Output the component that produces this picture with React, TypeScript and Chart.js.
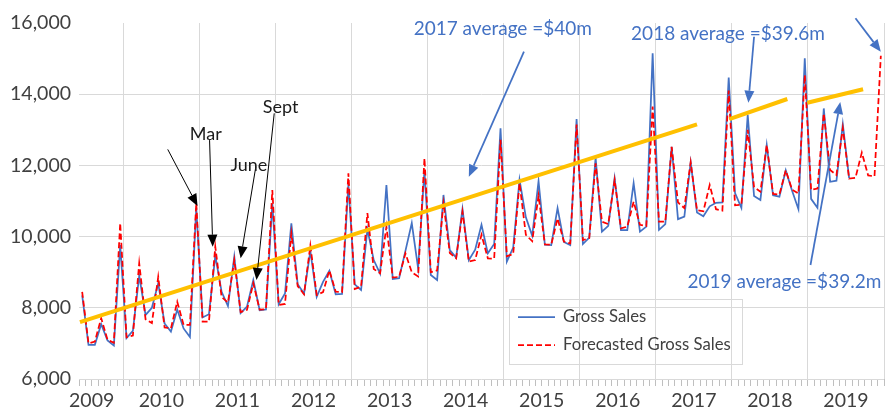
import { useEffect, useRef } from 'react';
import { Chart, registerables } from 'chart.js';

Chart.register(...registerables);

// ---------- data ----------
// monthly categories: Jun 2009 .. Dec 2019 (index 0 .. 126)
const MONTH_NAMES = ['Jan', 'Feb', 'Mar', 'Apr', 'May', 'Jun', 'Jul', 'Aug', 'Sep', 'Oct', 'Nov', 'Dec'];
const months: string[] = [];
for (let y = 2009; y <= 2019; y++) {
  for (let m = 0; m < 12; m++) {
    if (y === 2009 && m < 5) continue;
    months.push(`${MONTH_NAMES[m]} ${y}`);
  }
}

const yearLabels = ['2009', '2010', '2011', '2012', '2013', '2014', '2015', '2016', '2017', '2018', '2019'];

const grossSales = [
  8350, 6960, 6960, 7540, 7080, 6940, 9760,
  7150, 7350, 8900, 7800, 8000, 8690, 7560, 7330, 7950, 7420, 7180, 10800,
  7730, 7820, 9460, 8450, 8050, 9440, 7850, 8030, 8780, 7930, 7950, 10930,
  8100, 8400, 10370, 8660, 8400, 9590, 8310, 8730, 9040, 8380, 8390, 11470,
  8660, 8500, 10210, 9340, 8960, 11450, 8810, 8830, 9600, 10380, 9110, 11860,
  8920, 8780, 11170, 9620, 9410, 10780, 9340, 9630, 10330, 9530, 9790, 13040,
  9300, 9690, 11600, 10540, 10020, 11560, 9770, 9760, 10800, 9850, 9760, 13300,
  9790, 9970, 12220, 10140, 10300, 11640, 10180, 10180, 11500, 10140, 10280, 15150,
  10190, 10350, 12520, 10490, 10560, 12080, 10680, 10570, 10850, 10950, 10960, 14470,
  11220, 10810, 13420, 11140, 11030, 12570, 11160, 11120, 11860, 11290, 10770, 15010,
  11060, 10810, 13600, 11540, 11570, 13160, 11640,
];

const forecastSales = [
  8450, 7000, 7050, 7710, 7100, 7020, 10380,
  7170, 7220, 9250, 7680, 7570, 8870, 7450, 7420, 8170, 7520, 7520, 10940,
  7610, 7610, 9720, 8300, 8150, 9340, 7880, 7940, 8690, 7950, 7960, 11310,
  8080, 8110, 10090, 8610, 8380, 9750, 8360, 8440, 9050, 8450, 8440, 11780,
  8530, 8590, 10660, 9090, 8970, 10280, 8850, 8870, 9530, 9000, 8880, 12200,
  9000, 9050, 10930, 9540, 9390, 10700, 9300, 9340, 10050, 9390, 9380, 12720,
  9450, 9510, 11500, 10050, 9870, 11150, 9780, 9770, 10510, 9860, 9810, 13150,
  9900, 9960, 12060, 10420, 10350, 11590, 10230, 10280, 10980, 10330, 10300, 13650,
  10420, 10420, 12520, 10960, 10800, 12090, 10740, 10710, 11450, 10770, 10730, 14100,
  10880, 10900, 13000, 11390, 11260, 12570, 11200, 11180, 11860, 11320, 11210, 14540,
  11310, 11350, 13460, 11870, 11730, 13050, 11630, 11650, 12360, 11720, 11690, 15080,
];

// trend segments (month index, value)
const trendMain = [{ x: -0.35, y: 7600 }, { x: 97.0, y: 13150 }];
const trend2018 = [{ x: 102.1, y: 13300 }, { x: 111.25, y: 13865 }];
const trend2019 = [{ x: 114.4, y: 13760 }, { x: 123.2, y: 14140 }];

// annotation texts: [month index, value, text, colour, align, size]
const noteTexts: [number, number, string, string, CanvasTextAlign, number][] = [
  [52.3, 15830, '2017 average =$40m', '#4472C4', 'left', 19],
  [86.6, 15690, '2018 average =$39.6m', '#4472C4', 'left', 19],
  [95.5, 8725, '2019 average =$39.2m', '#4472C4', 'left', 19],
  [19.5, 12880, 'Mar', '#1a1a1a', 'center', 18],
  [26.3, 12010, 'June', '#1a1a1a', 'center', 18],
  [31.3, 13640, 'Sept', '#1a1a1a', 'center', 18],
];

// arrows: [from idx, from value, to idx, to value, colour, width]
const noteArrows: [number, number, number, number, string, number][] = [
  [13.5, 12450, 18.2, 10860, '#000000', 1],
  [20.1, 12710, 20.6, 9716, '#000000', 1],
  [27.4, 11966, 25.0, 9390, '#000000', 1],
  [30.3, 13463, 27.5, 8781, '#000000', 1],
  [69.7, 15194, 61.0, 11683, '#4472C4', 1.75],
  [106.0, 15615, 105.1, 13761, '#4472C4', 1.75],
  [114.9, 9202, 119.6, 13781, '#4472C4', 1.75],
  [122.0, 16132, 126.0, 15194, '#4472C4', 1.75],
];

const legendItems: [string, string, number[]][] = [
  ['Gross Sales', '#4472C4', []],
  ['Forecasted Gross Sales', '#FF0000', [6, 3]],
];

// ---------- helpers ----------
function drawArrow(ctx: CanvasRenderingContext2D, x1: number, y1: number, x2: number, y2: number, color: string, width: number) {
  const ang = Math.atan2(y2 - y1, x2 - x1);
  const headLen = 12;
  const headHalf = 5;
  const bx = x2 - headLen * Math.cos(ang);
  const by = y2 - headLen * Math.sin(ang);
  ctx.strokeStyle = color;
  ctx.fillStyle = color;
  ctx.lineWidth = width;
  ctx.setLineDash([]);
  ctx.beginPath();
  ctx.moveTo(x1, y1);
  ctx.lineTo(bx, by);
  ctx.stroke();
  ctx.beginPath();
  ctx.moveTo(x2, y2);
  ctx.lineTo(bx + headHalf * Math.sin(ang), by - headHalf * Math.cos(ang));
  ctx.lineTo(bx - headHalf * Math.sin(ang), by + headHalf * Math.cos(ang));
  ctx.closePath();
  ctx.fill();
}

const notesPlugin = {
  id: 'notes',
  afterDatasetsDraw(chart: any) {
    const { ctx, chartArea } = chart;
    const xs = chart.scales.x;
    const ys = chart.scales.y;
    ctx.save();
    for (const a of noteArrows) {
      drawArrow(ctx, xs.getPixelForValue(a[0]), ys.getPixelForValue(a[1]), xs.getPixelForValue(a[2]), ys.getPixelForValue(a[3]), a[4], a[5]);
    }
    ctx.textBaseline = 'middle';
    for (const t of noteTexts) {
      ctx.font = `${t[5]}px Lato`;
      ctx.fillStyle = t[3];
      ctx.textAlign = t[4];
      ctx.fillText(t[2], xs.getPixelForValue(t[0]), ys.getPixelForValue(t[1]));
    }
    // legend box
    const lx = chartArea.left + 430;
    const ly = chartArea.top + 276;
    ctx.strokeStyle = '#D9D9D9';
    ctx.lineWidth = 1;
    ctx.setLineDash([]);
    ctx.strokeRect(lx + 0.5, ly + 0.5, 233, 65);
    ctx.font = '16.7px Lato';
    ctx.textAlign = 'left';
    legendItems.forEach((it, i) => {
      const yy = ly + 18 + i * 28;
      ctx.strokeStyle = it[1];
      ctx.lineWidth = 1.75;
      ctx.setLineDash(it[2]);
      ctx.beginPath();
      ctx.moveTo(lx + 9, yy);
      ctx.lineTo(lx + 46, yy);
      ctx.stroke();
      ctx.setLineDash([]);
      ctx.fillStyle = '#404040';
      ctx.fillText(it[0], lx + 54, yy);
    });
    ctx.restore();
  },
};

export default function App() {
  const ref = useRef<HTMLCanvasElement | null>(null);
  useEffect(() => {
    document.body.style.margin = '0';
    if (!ref.current) return;
    Chart.defaults.font.family = 'Lato, sans-serif';
    const chart = new Chart(ref.current, {
      type: 'line',
      data: {
        datasets: [
          { label: 'trend', data: trendMain, borderColor: '#FFC000', borderWidth: 4, pointRadius: 0, order: 0 },
          { label: 'trend2018', data: trend2018, borderColor: '#FFC000', borderWidth: 4, pointRadius: 0, order: 0 },
          { label: 'trend2019', data: trend2019, borderColor: '#FFC000', borderWidth: 4, pointRadius: 0, order: 0 },
          {
            label: 'Forecasted Gross Sales',
            data: forecastSales.map((v, i) => ({ x: i, y: v })),
            borderColor: '#FF0000', borderDash: [6, 3], borderWidth: 1.75, pointRadius: 0, order: 1,
          },
          {
            label: 'Gross Sales',
            data: grossSales.map((v, i) => ({ x: i, y: v })),
            borderColor: '#4472C4', borderWidth: 1.75, pointRadius: 0, order: 2,
          },
        ],
      },
      options: {
        animation: false,
        responsive: false,
        events: [],
        layout: { padding: { top: 23, left: 0, right: 0, bottom: 0 } },
        elements: { line: { tension: 0 } },
        plugins: { legend: { display: false }, tooltip: { enabled: false } },
        scales: {
          x: {
            type: 'linear',
            min: -0.5,
            max: months.length - 0.5,
            bounds: 'data',
            afterBuildTicks: (scale: any) => {
              const t = [];
              for (let v = -0.5; v <= months.length - 0.5; v += 1) t.push({ value: v });
              scale.ticks = t;
            },
            afterFit: (scale: any) => { scale.height = 35; },
            border: { display: false },
            grid: {
              color: (c: any) => {
                const v = c.tick ? c.tick.value : -1;
                return v > 0 && (v - 6.5) % 12 === 0 ? '#D9D9D9' : 'rgba(0,0,0,0)';
              },
              tickColor: '#BFBFBF',
              tickLength: 7,
              lineWidth: 1,
            },
            ticks: {
              autoSkip: false,
              maxRotation: 0,
              minRotation: 0,
              padding: 3,
              color: '#404040',
              font: { size: 19.5, family: 'Lato' },
              callback: (value: any) => {
                const v = Number(value);
                if (v === 1.5) return yearLabels[0];
                if (v >= 12.5 && (v - 0.5) % 12 === 0) return yearLabels[(v - 0.5) / 12] ?? '';
                return '';
              },
            },
          },
          y: {
            min: 6000,
            max: 16000,
            afterFit: (scale: any) => { scale.width = 79; },
            border: { display: false },
            grid: {
              color: (c: any) => (c.tick && c.tick.value === 16000 ? 'rgba(0,0,0,0)' : '#D9D9D9'),
              drawTicks: false,
            },
            ticks: {
              stepSize: 2000,
              padding: 8,
              color: '#404040',
              font: { size: 19.5, family: 'Lato' },
              callback: (v: any) => Number(v).toLocaleString('en-US'),
            },
          },
        },
      },
      plugins: [notesPlugin],
    } as any);
    return () => chart.destroy();
  }, []);
  return (
    <div style={{ width: 887, height: 414 }}>
      <canvas ref={ref} width={887} height={414} style={{ display: 'block' }} />
    </div>
  );
}
